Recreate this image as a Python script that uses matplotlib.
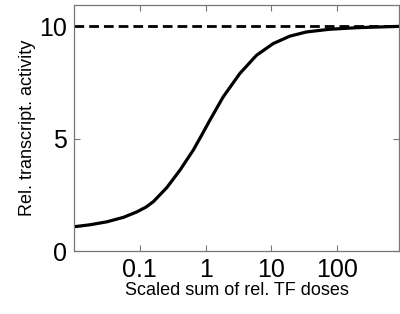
import matplotlib
matplotlib.use("Agg")
import matplotlib.pyplot as plt

# curve
dose = [0.01, 0.0177, 0.0316, 0.0565, 0.09, 0.125, 0.161, 0.257, 0.408, 0.649, 0.85,
        1.16, 1.85, 3.31, 5.93, 10.6, 18.9, 33.9, 76, 195, 870]
activity = [1.08, 1.17, 1.30, 1.50, 1.74, 1.96, 2.2, 2.82, 3.6, 4.49, 5.1,
            5.82, 6.86, 7.9, 8.71, 9.23, 9.56, 9.75, 9.87, 9.94, 10.0]
max_level = 10

xticks = [0.1, 1, 10, 100]
xticklabels = ["0.1", "1", "10", "100"]
yticks = [0, 5, 10]

plt.rcParams['font.family'] = ['Liberation Sans', 'DejaVu Sans']

fig = plt.figure(figsize=(4, 3.14), dpi=100)
ax = fig.add_axes([0.185, 0.2006, 0.8125, 0.7834])

ax.plot(dose, activity, color="black", lw=2.3, solid_joinstyle="round")
ax.axhline(max_level, color="black", lw=2, ls=(0, (3.5, 1.8)))

ax.set_xscale("log")
ax.set_xlim(0.01, 870)
ax.set_ylim(0, 10.95)
ax.set_xticks(xticks)
ax.set_xticklabels(xticklabels)
ax.minorticks_off()
ax.set_yticks(yticks)

ax.tick_params(direction="in", top=True, right=True, length=4, width=0.8,
               color="#777777", labelsize=18, pad=5)
for s in ax.spines.values():
    s.set_color("#777777")
    s.set_linewidth(0.9)

ax.set_xlabel("Scaled sum of rel. TF doses", fontsize=13, labelpad=0)
ax.set_ylabel("Rel. transcript. activity", fontsize=13, labelpad=2)

fig.savefig("out.png", dpi=100)
